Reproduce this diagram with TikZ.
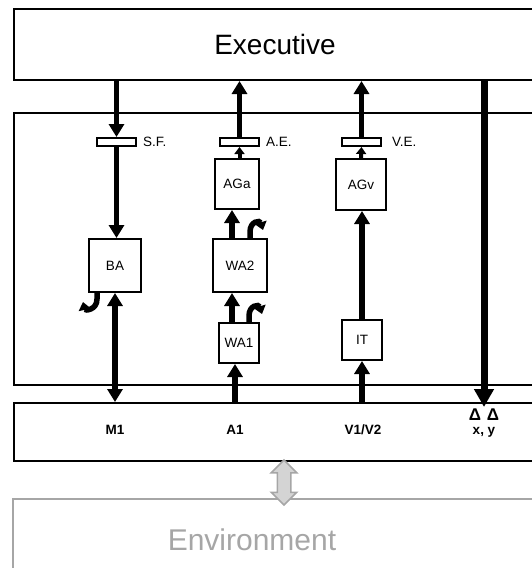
\documentclass[tikz,border=0pt]{standalone}
\usepackage{fontspec}
\setmainfont{Liberation Sans}
\usepackage{xcolor}
\definecolor{envgray}{RGB}{166,166,166}
\definecolor{envfill}{RGB}{212,212,212}
\usetikzlibrary{arrows.meta,shapes.arrows,positioning,calc}

\begin{document}
\begin{tikzpicture}[x=1pt,y=-1pt,
  panel/.style={draw,line width=2pt,minimum width=522pt,inner sep=0pt},
  unit/.style={draw,line width=2pt,inner sep=0pt,font=\fontsize{13.5}{14}\selectfont},
  gate/.style={draw,line width=2pt,minimum width=39pt,minimum height=8pt,inner sep=0pt},
  glabel/.style={anchor=west,inner sep=0pt,font=\fontsize{13.5}{14}\selectfont},
  port/.style={anchor=base,inner sep=0pt,font=\bfseries\fontsize{13.5}{14}\selectfont},
  flow/.style={line width=5.5pt,-{Triangle[length=13pt,width=15pt]}},
  flowsm/.style={line width=4pt,-{Triangle[length=7pt,width=10pt]}},
  curl/.style={line width=5.5pt,-{Triangle[length=8pt,width=12pt]}}]
  \useasboundingbox (0,0) rectangle (532,568);
  \clip (0,0) rectangle (532,568);
  \node[panel,minimum height=71pt] (exec) at (275,44.5) {\fontsize{28}{30}\selectfont Executive};
  \node[panel,minimum height=272pt] (ctrl) at (275,249) {};
  \node[panel,minimum height=58pt] (inp) at (274.5,432) {};
  \node[panel,draw=envgray,minimum height=90pt] (env) at (274,544) {};
  \node[text=envgray,font=\fontsize{30}{32}\selectfont] (envtext) at (252,540) {Environment};

  \node[gate] (sf) at (116.5,142) {};
  \node[gate] (ae) at (239.5,142) {};
  \node[gate] (ve) at (361.5,142) {};
  \node[glabel] (sflabel) at (143,142) {S.F.};
  \node[glabel] (aelabel) at (266,142) {A.E.};
  \node[glabel] (velabel) at (392,142) {V.E.};

  \node[unit,minimum width=52pt,minimum height=53pt] (ba) at (115,265.5) {BA};
  \node[unit,minimum width=44pt,minimum height=50pt] (aga) at (237,184) {AGa};
  \node[unit,minimum width=54pt,minimum height=53pt] (wa2) at (240,265.5) {WA2};
  \node[unit,minimum width=40pt,minimum height=40pt] (wa1) at (239,343) {WA1};
  \node[unit,minimum width=50pt,minimum height=51pt] (agv) at (361,184.5) {AGv};
  \node[unit,minimum width=40pt,minimum height=40pt] (it) at (362,340) {IT};

  \node[port] (m1) at (115,434) {M1};
  \node[port] (a1) at (235,434) {A1};
  \node[port] (v12) at (363,434) {V1/V2};
  \node[port] (xy) at (484,434) {x, y};
  \node[port,font=\bfseries\fontsize{17}{18}\selectfont] (tri) at (484,420.5) {Δ\hspace{6pt}Δ};

  \draw[flow] (exec.south -| sf) -- (sf.north);
  \draw[flow] (sf.south) -- (ba.north -| sf);
  \draw[line width=5.5pt,{Triangle[length=13pt,width=15pt]}-{Triangle[length=13pt,width=15pt]}] (ba.south) -- (inp.north -| ba);
  \draw[curl] ([xshift=-18pt]ba.south) -- ++(0,6) .. controls +(0,11) and +(2,9) .. ++(-14,3);

  \draw[flow] (inp.north -| a1) -- (wa1.south -| a1);
  \draw[flow] ([xshift=-7pt]wa1.north) -- ([xshift=-7pt]wa1.north |- wa2.south);
  \draw[curl] ([xshift=10pt]wa1.north) -- ++(0,-6) .. controls +(0,-11) and +(-3,-10) .. ++(13,-2);
  \draw[flow] ([xshift=-8pt]wa2.north) -- ([xshift=-8pt]wa2.north |- aga.south);
  \draw[curl] ([xshift=10pt]wa2.north) -- ++(0,-6) .. controls +(0,-11) and +(-3,-10) .. ++(13,-2);
  \draw[flowsm] (aga.north -| ae) -- (ae.south);
  \draw[flow] (ae.north) -- (exec.south -| ae);

  \draw[flow] (inp.north -| it) -- (it.south);
  \draw[flow] (it.north) -- (agv.south -| it);
  \draw[flowsm] (agv.north) -- (ve.south);
  \draw[flow] (ve.north) -- (exec.south -| ve);

  \draw[line width=7pt,-{Triangle[length=18pt,width=19pt]}] (exec.south -| xy) -- ($(inp.north -| xy)+(0,5)$);

  \node[double arrow,draw=envgray,fill=envfill,line width=1.5pt,rotate=90,
        minimum height=45pt,inner sep=6pt,double arrow head extend=6pt] (link) at (284,482.5) {};
\end{tikzpicture}
\end{document}
